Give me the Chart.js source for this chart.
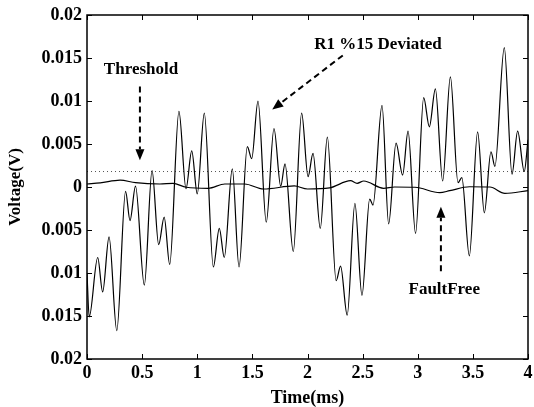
<!DOCTYPE html>
<html>
<head>
<meta charset="utf-8">
<script src="https://cdn.jsdelivr.net/npm/chart.js@4/dist/chart.umd.min.js"></script>
<style>
  body { margin: 0; background: #fff; }
  canvas { display: block; }
</style>
</head>
<body>
<canvas id="voltChart" width="534" height="407"></canvas>
<script>
// R1 %15 deviated response (local peaks / valleys)
const timeDeviated = [0, 0.02, 0.097, 0.142, 0.2, 0.27, 0.35, 0.39, 0.44, 0.52, 0.59, 0.65, 0.7, 0.75, 0.834, 0.898, 0.95, 1.0, 1.064, 1.146, 1.2, 1.245, 1.318, 1.379, 1.454, 1.494, 1.551, 1.626, 1.696, 1.757, 1.796, 1.871, 1.947, 2.005, 2.05, 2.116, 2.18, 2.26, 2.3, 2.36, 2.43, 2.494, 2.564, 2.594, 2.676, 2.736, 2.803, 2.863, 2.912, 2.98, 3.054, 3.105, 3.16, 3.226, 3.296, 3.365, 3.4, 3.468, 3.543, 3.604, 3.664, 3.7, 3.785, 3.855, 3.906, 3.966, 4.0]
const voltDeviated = [-0.01, -0.0151, -0.0082, -0.0122, -0.0058, -0.0167, -0.0005, -0.0039, 0.0001, -0.0114, 0.0019, -0.0067, -0.0035, -0.009, 0.0088, -0.0002, 0.0042, -0.0008, 0.0086, -0.0093, -0.0048, -0.0082, 0.0021, -0.0093, 0.0047, 0.0033, 0.01, -0.0041, 0.0068, 0.0001, 0.0027, -0.0075, 0.0086, 0.0012, 0.0039, -0.0048, 0.0058, -0.0109, -0.0092, -0.0149, -0.0019, -0.0126, -0.0014, -0.0021, 0.0095, -0.0043, 0.0051, 0.0014, 0.0065, -0.0054, 0.0104, 0.007, 0.0114, 0.0007, 0.0128, 0.0005, 0.0011, -0.008, 0.0064, -0.003, 0.0041, 0.0024, 0.0162, 0.0015, 0.0065, 0.0018, 0.0055]

// fault free response
const timeFaultFree = [0, 0.12, 0.3, 0.44, 0.66, 0.78, 0.9, 1.1, 1.25, 1.43, 1.6, 1.88, 2.0, 2.2, 2.39, 2.45, 2.51, 2.69, 2.79, 2.975, 3.2, 3.29, 3.47, 3.655, 3.79, 4.0]
const voltFaultFree = [0.00035, 0.00047, 0.0008, 0.0005, 0.00035, 0.00043, -0.00003, -0.00015, 0.00035, 0.00035, -0.00023, 0.00012, -0.00023, -0.0001, 0.00073, 0.00043, 0.0007, -0.00015, 0, -0.00003, -0.00066, -0.00043, 0.00003, 0, -0.00073, -0.00043]

const thresholdTime = [0, 4]
const thresholdVolt = [0.0018, 0.0018]

const xTicks = [0, 0.5, 1, 1.5, 2, 2.5, 3, 3.5, 4]
const yTicks = [-0.02, -0.015, -0.01, -0.005, 0, 0.005, 0.01, 0.015, 0.02]

const toPoints = (xs, ys) => xs.map((x, i) => ({ x: x, y: ys[i] }))

const FONT = "'Liberation Serif', 'Times New Roman', serif"

// frame + inward ticks on all four sides
const framePlugin = {
  id: "frame",
  afterDraw(chart) {
    const { ctx, chartArea: a, scales } = chart
    ctx.save()
    ctx.strokeStyle = "#000"
    ctx.lineWidth = 1.5
    ctx.strokeRect(a.left, a.top, a.right - a.left, a.bottom - a.top)
    ctx.lineWidth = 1
    ctx.beginPath()
    xTicks.forEach(t => {
      const px = Math.round(scales.x.getPixelForValue(t)) + 0.5
      ctx.moveTo(px, a.bottom); ctx.lineTo(px, a.bottom - 5)
      ctx.moveTo(px, a.top); ctx.lineTo(px, a.top + 5)
    })
    yTicks.forEach(t => {
      const py = Math.round(scales.y.getPixelForValue(t)) + 0.5
      ctx.moveTo(a.left, py); ctx.lineTo(a.left + 5, py)
      ctx.moveTo(a.right, py); ctx.lineTo(a.right - 5, py)
    })
    ctx.stroke()
    ctx.restore()
  }
}

// text labels with dashed arrows, placed in data units
const notes = [
  { text: "Threshold", tx: 0.49, ty: 0.0136, from: [0.48, 0.0117], to: [0.48, 0.0031] },
  { text: "R1 %15 Deviated", tx: 2.64, ty: 0.0166, from: [2.32, 0.0153], to: [1.68, 0.009] },
  { text: "FaultFree", tx: 3.24, ty: -0.0119, from: [3.21, -0.0098], to: [3.21, -0.0023] },
]

const notesPlugin = {
  id: "notes",
  afterDraw(chart) {
    const { ctx, scales } = chart
    const X = v => scales.x.getPixelForValue(v)
    const Y = v => scales.y.getPixelForValue(v)
    ctx.save()
    ctx.fillStyle = "#000"
    ctx.strokeStyle = "#000"
    ctx.font = "bold 17px " + FONT
    ctx.textAlign = "center"
    ctx.textBaseline = "middle"
    notes.forEach(n => {
      ctx.fillText(n.text, X(n.tx), Y(n.ty))
      const x1 = X(n.from[0]), y1 = Y(n.from[1])
      const x2 = X(n.to[0]), y2 = Y(n.to[1])
      const ang = Math.atan2(y2 - y1, x2 - x1)
      const headLen = 11
      ctx.lineWidth = 2
      ctx.setLineDash([6, 4])
      ctx.beginPath()
      ctx.moveTo(x1, y1)
      ctx.lineTo(x2 - headLen * Math.cos(ang), y2 - headLen * Math.sin(ang))
      ctx.stroke()
      ctx.setLineDash([])
      ctx.beginPath()
      ctx.moveTo(x2, y2)
      ctx.lineTo(x2 - headLen * Math.cos(ang) + 4.5 * Math.sin(ang), y2 - headLen * Math.sin(ang) - 4.5 * Math.cos(ang))
      ctx.lineTo(x2 - headLen * Math.cos(ang) - 4.5 * Math.sin(ang), y2 - headLen * Math.sin(ang) + 4.5 * Math.cos(ang))
      ctx.closePath()
      ctx.fill()
    })
    ctx.restore()
  }
}

new Chart(document.querySelector("#voltChart"), {
  type: "line",
  data: {
    datasets: [
      {
        label: "R1 %15 Deviated",
        data: toPoints(timeDeviated, voltDeviated),
        borderColor: "#000",
        borderWidth: 1.2,
        pointRadius: 0,
        cubicInterpolationMode: "monotone",
        fill: false,
      },
      {
        label: "FaultFree",
        data: toPoints(timeFaultFree, voltFaultFree),
        borderColor: "#000",
        borderWidth: 1.2,
        pointRadius: 0,
        cubicInterpolationMode: "monotone",
        fill: false,
      },
      {
        label: "Threshold",
        data: toPoints(thresholdTime, thresholdVolt),
        borderColor: "#555",
        borderWidth: 1,
        borderDash: [1, 3],
        pointRadius: 0,
        fill: false,
      },
    ],
  },
  options: {
    responsive: false,
    animation: false,
    devicePixelRatio: 1,
    layout: { padding: { left: 0, right: 6, top: 15, bottom: 0 } },
    plugins: { legend: { display: false }, tooltip: { enabled: false } },
    scales: {
      x: {
        type: "linear",
        min: 0,
        max: 4,
        afterFit: s => { s.height = 48; s.paddingLeft = 0; s.paddingRight = 0 },
        afterBuildTicks: s => { s.ticks = xTicks.map(v => ({ value: v })) },
        grid: { display: false, drawTicks: false },
        border: { display: false },
        ticks: {
          color: "#000",
          padding: 4,
          maxRotation: 0,
          font: { family: FONT, size: 18, weight: "bold" },
          callback: v => String(v),
        },
        title: { display: true, text: "Time(ms)", color: "#000", padding: 0, font: { family: FONT, size: 18, weight: "bold", lineHeight: 1 } },
      },
      y: {
        min: -0.02,
        max: 0.02,
        afterFit: s => { s.width = 87; s.paddingTop = 0; s.paddingBottom = 0 },
        afterBuildTicks: s => { s.ticks = yTicks.map(v => ({ value: v })) },
        grid: { display: false, drawTicks: false },
        border: { display: false },
        ticks: {
          color: "#000",
          padding: 5,
          font: { family: FONT, size: 18, weight: "bold" },
          callback: v => String(Number(Math.abs(v).toFixed(3))),
        },
        title: { display: true, text: "Voltage(V)", color: "#000", padding: { top: 5, bottom: 0 }, font: { family: FONT, size: 17, weight: "bold" } },
      },
    },
  },
  plugins: [framePlugin, notesPlugin],
})
</script>
</body>
</html>
